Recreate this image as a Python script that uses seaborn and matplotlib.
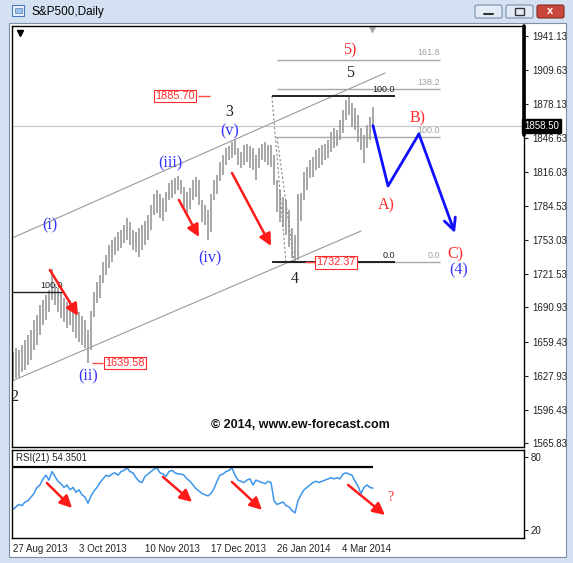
import matplotlib
matplotlib.use("Agg")
import matplotlib.pyplot as plt
import numpy as np
import pandas as pd
import seaborn as sns
from matplotlib.patches import Rectangle, FancyBboxPatch
from matplotlib.transforms import blended_transform_factory

W, H = 573, 563

# daily bars (high / low), last close 1858.50
highs = [1650, 1653, 1652, 1656, 1661, 1665, 1670, 1679, 1684, 1693,
         1698, 1702, 1707, 1726, 1712, 1709, 1705, 1700, 1696, 1698,
         1692, 1688, 1687, 1683, 1679, 1670, 1688, 1705, 1714, 1721,
         1733, 1739, 1748, 1753, 1756, 1760, 1762, 1767, 1773, 1770,
         1762, 1760, 1764, 1767, 1771, 1776, 1785, 1795, 1799, 1795,
         1792, 1797, 1806, 1808, 1810, 1812, 1808, 1802, 1797, 1801,
         1808, 1811, 1808, 1790, 1785, 1781, 1795, 1808, 1813, 1825,
         1831, 1838, 1840, 1843, 1845, 1838, 1834, 1841, 1842, 1840,
         1838, 1831, 1838, 1842, 1843, 1841, 1841, 1831, 1808, 1799,
         1793, 1790, 1781, 1764, 1758, 1795, 1796, 1816, 1820, 1827,
         1830, 1836, 1838, 1841, 1842, 1845, 1853, 1856, 1854, 1864,
         1873, 1882, 1885.70, 1879, 1875, 1868, 1856, 1850, 1859, 1866,
         1876]
lows = [1624, 1626, 1627, 1631, 1633, 1638, 1642, 1652, 1656, 1665,
        1675, 1679, 1687, 1698, 1693, 1687, 1681, 1677, 1672, 1675,
        1668, 1663, 1659, 1656, 1653, 1639.58, 1652, 1682, 1695, 1700,
        1713, 1721, 1727, 1733, 1739, 1743, 1746, 1750, 1753, 1748,
        1744, 1742, 1737, 1744, 1748, 1753, 1762, 1776, 1778, 1773,
        1771, 1779, 1790, 1792, 1795, 1799, 1795, 1781, 1776, 1782,
        1790, 1793, 1785, 1770, 1767, 1753, 1760, 1790, 1795, 1807,
        1813, 1822, 1827, 1829, 1831, 1822, 1819, 1822, 1825, 1819,
        1818, 1808, 1819, 1827, 1825, 1822, 1820, 1804, 1779, 1770,
        1765, 1758, 1747, 1736, 1732.37, 1735, 1771, 1790, 1799, 1810,
        1811, 1818, 1819, 1822, 1827, 1829, 1834, 1838, 1840, 1845,
        1852, 1864, 1868, 1857, 1854, 1843, 1836, 1824, 1838, 1845,
        1858.50]
rsi = [37, 39, 41, 40, 43, 44, 47, 50, 55, 57,
       62, 65, 61, 68, 64, 60, 58, 55, 57, 53,
       55, 51, 53, 49, 47, 42, 48, 52, 55, 59,
       62, 65, 64, 66, 67, 65, 68, 69, 71, 68,
       67, 63, 60, 59, 64, 66, 68, 70, 71, 67,
       66, 64, 68, 69, 67, 66, 66, 65, 62, 60,
       57, 54, 52, 50, 49, 48, 50, 54, 60, 65,
       66, 68, 69, 71, 65, 61, 60, 59, 61, 62,
       57, 61, 60, 59, 58, 60, 59, 44, 41, 42,
       43, 40, 39, 36, 34, 44, 49, 53, 55, 57,
       59, 60, 59, 60, 61, 62, 63, 62, 63, 62,
       66, 67, 66, 65, 60, 56, 50, 55, 57, 55,
       54.35]
last_close = 1858.50
rsi_last = 54.3501
rsi_ceiling = 72

price_ticks = [1941.13, 1909.63, 1878.13, 1846.63, 1816.03, 1784.53, 1753.03,
               1721.53, 1690.93, 1659.43, 1627.93, 1596.43, 1565.83]
date_labels = ["27 Aug 2013", "3 Oct 2013", "10 Nov 2013", "17 Dec 2013",
               "26 Jan 2014", "4 Mar 2014"]
date_pos = [0, 22, 44, 66, 88, 109.7]

# fibonacci levels
fib_grey_levels = ["0.0", "100.0", "138.2", "161.8"]
fib_grey_prices = [1732.37, 1848.0, 1892.1, 1919.4]
fib_black_levels = ["0.0", "100.0"]
fib_black_prices = [1732.37, 1885.70]
fib_left_price = 1705.1

# projected A-B-C path
proj_x = [120, 125, 135.3, 147.3]
proj_y = [1858.50, 1802.8, 1850.8, 1759.5]

# channel
chan_x = [[-0.33, 124], [-0.33, 116]]
chan_y = [[1754.8, 1907.0], [1623.0, 1761.3]]

sns.set_theme(style="white")
plt.rcParams["font.family"] = ["Liberation Sans", "DejaVu Sans"]

df = pd.DataFrame({"bar": np.arange(len(highs)), "high": highs, "low": lows, "rsi": rsi})

fig = plt.figure(figsize=(W / 100, H / 100), dpi=100, facecolor="#d3e1f3")


def px_axes(x0, y0, x1, y1):
    return fig.add_axes([x0 / W, 1 - y1 / H, (x1 - x0) / W, (y1 - y0) / H])


# window chrome
bg = fig.add_axes([0, 0, 1, 1], zorder=-5)
bg.set_xlim(0, W)
bg.set_ylim(H, 0)
bg.axis("off")
bg.add_patch(Rectangle((9, 23), 557, 534, facecolor="white", edgecolor="#7f8fa6", lw=0.8))
bg.add_patch(Rectangle((12, 5), 12, 11, facecolor="#eef4fb", edgecolor="#4a78b8", lw=0.8))
bg.add_patch(Rectangle((15, 8), 7, 5, facecolor="#9fc0e8", edgecolor="#4a78b8", lw=0.5))
bg.text(31, 11.5, "S&P500,Daily", fontsize=8.5, va="center", ha="left", color="black")
for x0, fc, ec in [(475, "#e3ebf6", "#7e8ea8"), (506, "#e3ebf6", "#7e8ea8"), (537, "#c8463b", "#8a2b22")]:
    bg.add_patch(FancyBboxPatch((x0, 5), 27, 13, boxstyle="round,pad=0,rounding_size=2",
                                facecolor=fc, edgecolor=ec, lw=0.8))
bg.plot([484, 493], [14, 14], color="#333333", lw=1.5)
bg.add_patch(Rectangle((515, 8), 9, 7, facecolor="none", edgecolor="#333333", lw=1))
bg.text(550.5, 11.5, "x", color="white", fontsize=8, fontweight="bold", ha="center", va="center")

# price panel
ax = px_axes(12, 26, 524, 447)
ax.set_xlim(-0.33, 170.33)
ax.set_ylim(1562.15, 1950.36)
ax.vlines(df["bar"], df["low"], df["high"], color="#9c9c9c", lw=1.25, zorder=2)
ax.axhline(last_close, color="#c6c6c6", lw=0.8, zorder=1)

for cx, cy in zip(chan_x, chan_y):
    ax.plot(cx, cy, color="#9a9a9a", lw=0.8, zorder=1)

for lab, p in zip(fib_grey_levels, fib_grey_prices):
    ax.hlines(p, 88, 142.3, color="#a8a8a8", lw=1.0, zorder=1)
    ax.text(142.3, p + 2, lab, color="#a0a0a0", fontsize=6.5, ha="right", va="bottom")
for lab, p in zip(fib_black_levels, fib_black_prices):
    ax.hlines(p, 86.3, 127.3, color="#222222", lw=1.4, zorder=3)
    ax.text(127.3, p + 2, lab, color="#222222", fontsize=6.5, ha="right", va="bottom")
ax.hlines(fib_left_price, -0.33, 16.7, color="#222222", lw=1.0, zorder=3)
ax.text(16.7, fib_left_price + 1.5, "100.0", color="#222222", fontsize=6.5, ha="right", va="bottom")

ax.plot([86.3, 91], [fib_black_prices[1], fib_black_prices[0]], color="#888888", lw=0.8, ls=(0, (2, 2)))
ax.plot([88, 93.7], [fib_grey_prices[1], fib_grey_prices[0]], color="#888888", lw=0.8, ls=(0, (2, 2)))

# projection
ax.plot(proj_x[:-1], proj_y[:-1], color="#1010ff", lw=2.0, zorder=4)
ax.annotate("", xy=(proj_x[-1], proj_y[-1]), xytext=(proj_x[-2], proj_y[-2]),
            arrowprops=dict(arrowstyle="->,head_length=0.7,head_width=0.35", color="#1010ff", lw=2.0,
                            shrinkA=0, shrinkB=0), zorder=4)

# red arrows on price
for (x0, y0), (x1, y1) in [((12.3, 1725.4), (21.7, 1683.0)),
                           ((55.3, 1790.0), (62.0, 1755.8)),
                           ((73.0, 1814.8), (86.0, 1747.5))]:
    ax.annotate("", xy=(x1, y1), xytext=(x0, y0),
                arrowprops=dict(arrowstyle="-|>,head_length=0.6,head_width=0.3", color="#ff1a1a", lw=1.8,
                                shrinkA=0, shrinkB=0), zorder=5)

serif = ["Liberation Serif", "DejaVu Serif"]
wave_labels = [("(i)", 12.3, 1766.1, "#3333ff"), ("(ii)", 25.0, 1627.6, "#3333ff"),
               ("(iii)", 52.3, 1824.0, "#3333ff"), ("(iv)", 65.7, 1736.4, "#3333ff"),
               ("(v)", 72.3, 1853.5, "#3333ff"), ("3", 72.0, 1871.0, "#222222"),
               ("5", 112.3, 1907.0, "#222222"), ("5)", 112.3, 1928.2, "#ff2a2a"),
               ("4", 94.0, 1717.1, "#222222"), ("2", 0.3, 1608.3, "#222222"),
               ("A)", 124.3, 1785.3, "#ff2a2a"), ("B)", 134.7, 1865.5, "#ff2a2a"),
               ("C)", 147.3, 1739.8, "#ff2a2a"), ("(4)", 148.7, 1724.6, "#3333ff")]
for txt, x, y, c in wave_labels:
    ax.text(x, y, txt, color=c, fontsize=11.5, family=serif, ha="center", va="center", zorder=6)

for txt, x, y, lx in [("1885.70", 54.0, 1885.70, (61.7, 65.7)),
                      ("1639.58", 37.3, 1639.58, (26.3, 30.0)),
                      ("1732.37", 107.7, 1732.37, (97.3, 100.7))]:
    ax.hlines(y, lx[0], lx[1], color="#ff4a4a", lw=1.0, zorder=5)
    ax.text(x, y, txt, color="#ff2a2a", fontsize=7.8, ha="center", va="center", zorder=6,
            bbox=dict(boxstyle="square,pad=0.12", facecolor="white", edgecolor="#ff2a2a", lw=0.8))

ax.text(95.7, 1582.6, "\u00a9 2014, www.ew-forecast.com", fontsize=9, fontweight="bold",
        ha="center", va="center", color="#111111")

ax.plot([2.3], [1943.9], marker="v", color="black", ms=4, clip_on=False)
ax.plot([119.7], [1947.6], marker="v", color="#a8a8a8", ms=5, clip_on=False)

ax.yaxis.tick_right()
ax.set_yticks(price_ticks)
ax.set_yticklabels([f"{t:.2f}" for t in price_ticks])
ax.tick_params(axis="y", which="both", right=True, length=3, width=0.8, direction="out",
               labelsize=7, pad=3, colors="#222222")
ax.set_xticks([])
for s in ax.spines.values():
    s.set_color("black")
    s.set_linewidth(1.0)

tr = blended_transform_factory(ax.transAxes, ax.transData)
ax.plot([1, 1], [1850, 1950.36], transform=tr, color="black", lw=2.6, clip_on=False, zorder=7)
ax.text(1.0, last_close, "1858.50", transform=tr, color="white", fontsize=7, ha="left", va="center",
        bbox=dict(boxstyle="square,pad=0.2", facecolor="black", edgecolor="black"), zorder=8)

# RSI panel
ax2 = px_axes(12, 450, 524, 538)
sns.lineplot(data=df, x="bar", y="rsi", ax=ax2, color="#3d95ec", lw=1.1)
ax2.set_xlim(-0.33, 170.33)
ax2.set_ylim(13.4, 85.75)
ax2.hlines(rsi_ceiling, -0.33, 120, color="black", lw=1.6)
ax2.text(1.0, 79.2, f"RSI(21) {rsi_last}", fontsize=7, ha="left", va="center", color="#222222")
for (x0, y0), (x1, y1) in [((11.3, 58.6), (19.7, 38.1)), ((50.0, 63.6), (59.7, 43.0)),
                           ((73.0, 59.5), (83.0, 36.5)), ((111.7, 57.0), (124.0, 32.3))]:
    ax2.annotate("", xy=(x1, y1), xytext=(x0, y0),
                 arrowprops=dict(arrowstyle="-|>,head_length=0.6,head_width=0.3", color="#ff1a1a", lw=1.8,
                                 shrinkA=0, shrinkB=0))
ax2.text(125.7, 47.1, "?", color="#ff2a2a", fontsize=10, family=serif, ha="center", va="center")

ax2.yaxis.tick_right()
ax2.set_yticks([80, 20])
ax2.set_yticklabels(["80", "20"])
ax2.set_xticks(date_pos)
ax2.set_xticklabels(date_labels, ha="left")
ax2.tick_params(axis="both", length=3, width=0.8, direction="out", labelsize=7, pad=2, colors="#222222")
ax2.tick_params(axis="x", pad=1)
ax2.set_xlabel("")
ax2.set_ylabel("")
for s in ax2.spines.values():
    s.set_color("black")
    s.set_linewidth(1.0)

fig.savefig("out.png", dpi=100, facecolor=fig.get_facecolor())
